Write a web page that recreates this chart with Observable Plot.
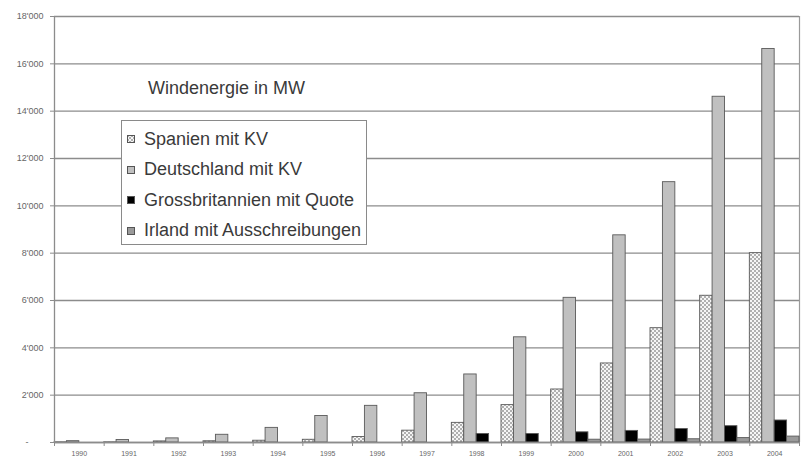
<!DOCTYPE html>
<html><head><meta charset="utf-8">
<script src="https://cdn.jsdelivr.net/npm/d3@7"></script>
<script src="https://cdn.jsdelivr.net/npm/@observablehq/plot@0.6"></script>
<style>
body{margin:0;background:#fff;font-family:"Liberation Sans",Arial,sans-serif;}
#wrap{position:relative;width:807px;height:464px;overflow:hidden;}
#title{position:absolute;left:148px;top:78px;font-size:18px;color:#3a3a3a;white-space:nowrap;}
#legend{position:absolute;left:121px;top:120px;width:246px;height:125px;border:1px solid #8a8a8a;background:#fff;box-sizing:border-box;}
.item{position:absolute;left:5px;height:20px;font-size:18px;color:#3a3a3a;display:flex;align-items:center;white-space:nowrap;}
.item svg{margin-right:9px;}
</style></head><body><div id="wrap"><div id="chart"></div><div id="title"></div><div id="legend"></div></div>
<script>
const years = [1990,1991,1992,1993,1994,1995,1996,1997,1998,1999,2000,2001,2002,2003,2004];
const seriesNames = ["Spanien mit KV","Deutschland mit KV","Grossbritannien mit Quote","Irland mit Ausschreibungen"];
const spanien = [7,7,46,52,75,115,230,500,830,1580,2240,3340,4830,6200,8000];
const deutschland = [56,106,174,326,618,1121,1549,2081,2875,4445,6113,8754,11000,14609,16629];
const grossbritannien = [null,null,null,null,null,null,null,null,360,360,430,490,570,690,930];
const irland = [null,null,null,null,null,null,null,null,null,null,118,124,137,186,250];
const yTicks = [0,2000,4000,6000,8000,10000,12000,14000,16000,18000];
const titleText = "Windenergie in MW";
const seriesFills = ["url(#hatch)","#c0c0c0","#000000","#9a9a9a"];

const data = [];
[spanien, deutschland, grossbritannien, irland].forEach((arr, i) =>
  arr.forEach((v, j) => { if (v != null) data.push({year: years[j], series: seriesNames[i], i, value: v}); }));
const boundaries = years.map(y => y - 0.5).concat([years[years.length-1] + 0.5]);

const fmt = d => d === 0 ? "-\u00a0\u00a0\u00a0\u00a0\u00a0\u00a0" : d3.format(",")(d).replace(",", "'");

const chart = Plot.plot({
  width: 807, height: 464,
  marginLeft: 54, marginRight: 8, marginTop: 16, marginBottom: 22,
  style: {fontFamily: "Liberation Sans, Arial, sans-serif", background: "#fff", color: "#555"},
  x: {type: "linear", domain: [years[0]-0.5, years[years.length-1]+0.5], axis: null},
  y: {domain: [0, 18000], axis: null},
  color: {domain: seriesNames, range: seriesFills},
  marks: [
    Plot.gridY(yTicks, {stroke: "#8c8c8c", strokeOpacity: 1, strokeWidth: 1.3}),
    Plot.ruleX([boundaries[boundaries.length-1]], {stroke: "#9a9a9a", strokeWidth: 1.2}),
    Plot.rectY(data, {
      x1: d => d.year - 0.5 + d.i / 4,
      x2: d => d.year - 0.5 + (d.i + 1) / 4,
      y: "value", fill: "series", stroke: "#5a5a5a", strokeWidth: 0.9
    }),
    Plot.ruleY([0], {stroke: "#8c8c8c", strokeWidth: 1.3}),
    Plot.ruleX([boundaries[0]], {stroke: "#8c8c8c", strokeWidth: 1.3}),
    Plot.axisY({ticks: yTicks, tickFormat: fmt, tickSize: 4, tickPadding: 7, fontSize: 9, stroke: "#8c8c8c", fill: "#666", label: null}),
    Plot.axisX({ticks: boundaries, tickSize: 4, tickFormat: () => "", stroke: "#8c8c8c", label: null}),
    Plot.axisX({ticks: years, tickSize: 0, tickPadding: 9, tickFormat: d => String(d), fontSize: 7, fill: "#666", label: null})
  ]
});

const svg = d3.select(chart);
const defs = svg.insert("defs", ":first-child");
const pat = defs.append("pattern").attr("id", "hatch").attr("patternUnits", "userSpaceOnUse").attr("width", 4).attr("height", 4);
pat.append("rect").attr("width", 4).attr("height", 4).attr("fill", "#f6f6f6");
pat.append("rect").attr("width", 2).attr("height", 2).attr("fill", "#b0b0b0");
pat.append("rect").attr("x", 2).attr("y", 2).attr("width", 2).attr("height", 2).attr("fill", "#b0b0b0");

document.getElementById("chart").appendChild(chart);
document.getElementById("title").textContent = titleText;

const legend = document.getElementById("legend");
seriesNames.forEach((name, i) => {
  const item = document.createElement("div");
  item.className = "item";
  item.style.top = (8 + i * 30.5) + "px";
  item.innerHTML = `<svg width="8" height="8"><rect x="0.5" y="0.5" width="7" height="7" fill="${seriesFills[i]}" stroke="#555" stroke-width="1"/></svg>`;
  const span = document.createElement("span");
  span.textContent = name;
  item.appendChild(span);
  legend.appendChild(item);
});
</script>
</body></html>
